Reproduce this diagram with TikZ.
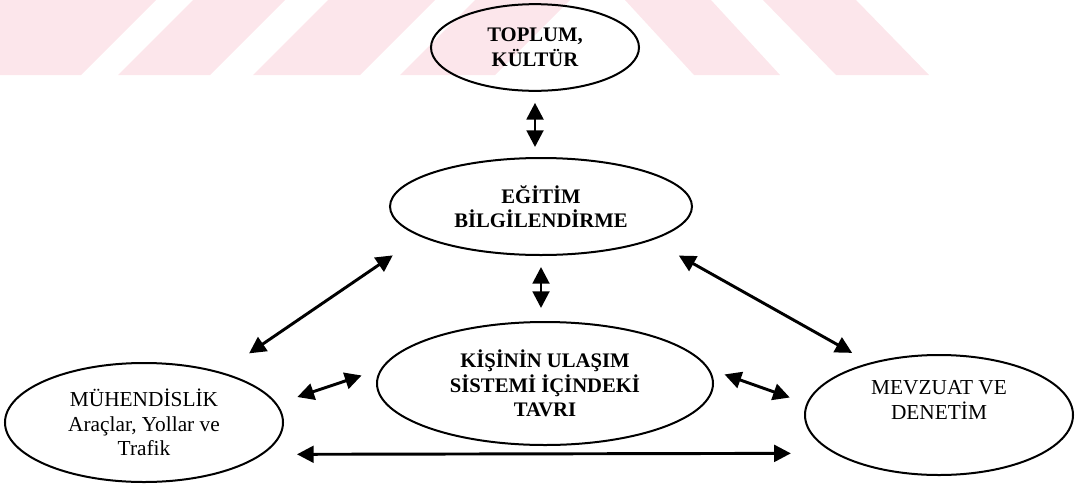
\documentclass[tikz,border=0pt]{standalone}
\usepackage{fontspec}
\setmainfont{Liberation Serif}
\usepackage{tikz}
\usetikzlibrary{arrows.meta,shapes.geometric}
\definecolor{wmpink}{RGB}{252,230,235}

\begin{document}
\begin{tikzpicture}[x=0.75pt, y=-0.75pt,
    oval/.style={ellipse, draw, line width=1.5pt, inner sep=0pt, align=center, font=\fontsize{16}{18.5}\selectfont},
    strong/.style={font=\fontsize{15.5}{18.5}\selectfont\bfseries},
    link/.style={{Triangle[length=12.5pt,width=12.5pt]}-{Triangle[length=12.5pt,width=12.5pt]}, line width=2.2pt},
    stripe/.style={fill=wmpink, draw=none}]

    \useasboundingbox (0,0) rectangle (1078,486);

    % faint stripes at the top
    \fill[stripe] (0,0) -- (156,0) -- (81,75) -- (0,75) -- cycle;
    \fill[stripe] (193,0) -- (285,0) -- (210,75) -- (118,75) -- cycle;
    \fill[stripe] (328,0) -- (435,0) -- (360,75) -- (253,75) -- cycle;
    \fill[stripe] (475,0) -- (570,0) -- (495,75) -- (400,75) -- cycle;
    \fill[stripe] (625,0) -- (711,0) -- (780,75) -- (694,75) -- cycle;
    \fill[stripe] (763,0) -- (856,0) -- (929,75) -- (836,75) -- cycle;

    \node[oval, strong, minimum width=156pt, minimum height=65pt] (top) at (535,47.5) {TOPLUM,\\KÜLTÜR};
    \node[oval, strong, minimum width=226.5pt, minimum height=72.75pt] (edu) at (541,206.5) {EĞİTİM\\BİLGİLENDİRME};
    \node[oval, strong, minimum width=252pt, minimum height=92.25pt] (kisi) at (545,383.5) {KİŞİNİN ULAŞIM\\SİSTEMİ İÇİNDEKİ\\TAVRI};
    \node[oval, minimum width=208.5pt, minimum height=89.25pt] (muh) at (144,422.5) {MÜHENDİSLİK\\Araçlar, Yollar ve\\Trafik};
    \node[oval, minimum width=201pt, minimum height=90pt] (mev) at (939,415) {MEVZUAT VE\\DENETİM\\[4pt]};

    \draw[link, shorten <=8.25pt, shorten >=7.5pt] (top.south) -- (top.south |- edu.north);
    \draw[link, shorten <=8.25pt, shorten >=9.75pt] (edu.south) -- (edu.south |- kisi.north);
    \draw[link, shorten <=25pt, shorten >=25pt] (edu.194) -- (muh.33);
    \draw[link, shorten <=23.25pt, shorten >=15pt] (edu.343) -- (mev.143);
    \draw[link, shorten <=16pt, shorten >=15pt] (muh.8) -- (kisi.175);
    \draw[link, shorten <=12pt, shorten >=13.3pt] (kisi.5) -- (mev.175);
    \draw[link, shorten <=25.5pt, shorten >=32.25pt] (muh.345) -- (mev.200);
\end{tikzpicture}
\end{document}
